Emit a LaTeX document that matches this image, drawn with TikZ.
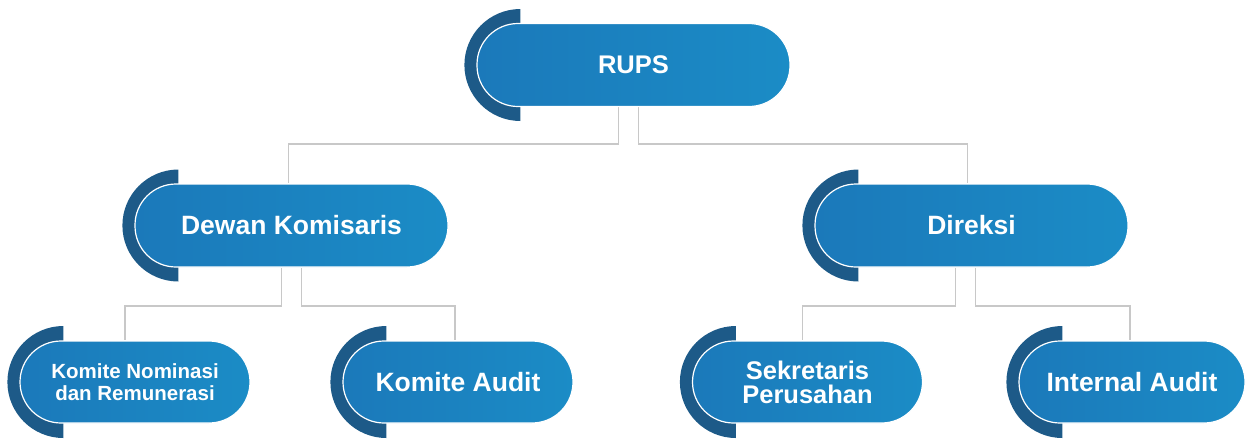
\documentclass[tikz,border=0pt]{standalone}
\usepackage{fontspec}
\setmainfont{Liberation Sans}
\usetikzlibrary{backgrounds}
\definecolor{pillleft}{HTML}{1B79BA}
\definecolor{pillright}{HTML}{1B8CC6}
\definecolor{arcblue}{HTML}{1D5A88}
\definecolor{linegray}{HTML}{C8C8C8}

\begin{document}
\begin{tikzpicture}[x=1pt,y=-1pt,
    pill/.style={rectangle,rounded corners=41pt,minimum width=313pt,minimum height=83pt,
      left color=pillleft,right color=pillright,draw=white,line width=1.2pt,
      text=white,align=center,inner sep=0pt,font=\bfseries\fontsize{26.5pt}{24pt}\selectfont},
    smallpill/.style={pill,minimum width=230pt,minimum height=82pt},
    link/.style={linegray,line width=1.8pt}]
      \useasboundingbox (0,0) rectangle (1249,440);

      % Top level
      \node[pill,font=\bfseries\fontsize{25.5pt}{24pt}\selectfont] (rups) at (633.5,65) {RUPS};

      % Second level
      \node[pill] (dewan) at (291.5,225.5) {Dewan Komisaris};
      \node[pill] (direksi) at (971.5,225.5) {Direksi};

      % Third level
      \node[smallpill,font=\bfseries\fontsize{20.5pt}{22pt}\selectfont] (nominasi) at (135,382) {Komite Nominasi\\dan Remunerasi};
      \node[smallpill] (audit) at (458,382) {Komite Audit};
      \node[smallpill,font=\bfseries\fontsize{25.5pt}{24pt}\selectfont] (sekretaris) at (807.5,382) {Sekretaris\\Perusahan};
      \node[smallpill,minimum width=226pt] (internal) at (1132,382) {Internal Audit};

      \begin{scope}[on background layer]
        % Dark half rings behind the pills
        \foreach \n in {rups,dewan,direksi,nominasi,audit,sekretaris,internal}
          \fill[arcblue] ([xshift=44pt]\n.west) ++(0,-56) arc[start angle=270,end angle=90,radius=56] -- cycle;

        % Connectors
        \draw[link] ([xshift=-15pt]rups.south) -- ++(0,36.5) -| ([xshift=-3pt]dewan.north);
        \draw[link] ([xshift=5pt]rups.south) -- ++(0,36.5) -| ([xshift=-4pt]direksi.north);
        \draw[link] ([xshift=-10pt]dewan.south) -- ++(0,38) -| ([xshift=-10pt]nominasi.north);
        \draw[link] ([xshift=10pt]dewan.south) -- ++(0,38) -| ([xshift=-3pt]audit.north);
        \draw[link] ([xshift=-16pt]direksi.south) -- ++(0,38) -| ([xshift=-5pt]sekretaris.north);
        \draw[link] ([xshift=4pt]direksi.south) -- ++(0,38) -| ([xshift=-2pt]internal.north);
      \end{scope}
    \end{tikzpicture}
\end{document}
